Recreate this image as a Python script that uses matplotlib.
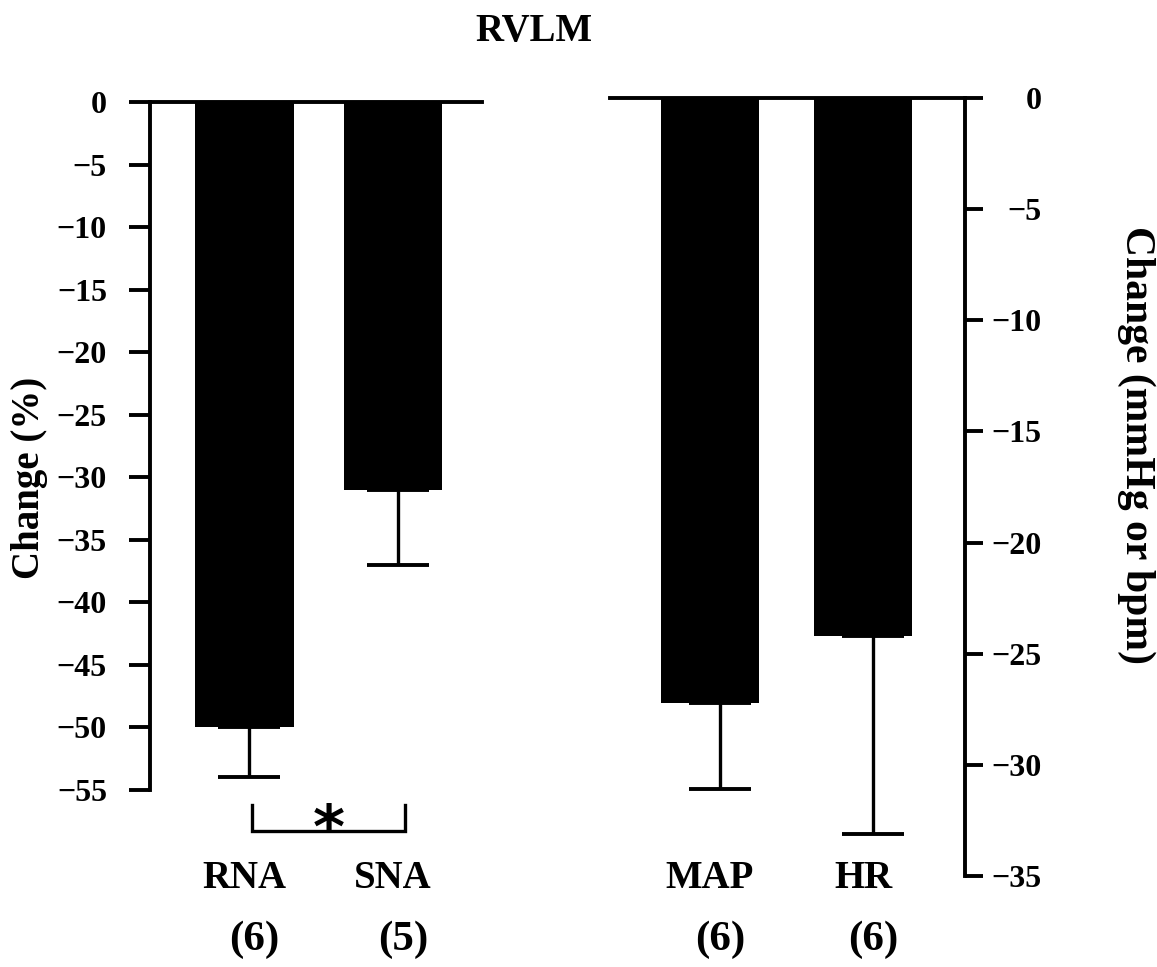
import numpy as np
import matplotlib.pyplot as plt
from matplotlib import transforms

plt.rcParams['font.family'] = ['Liberation Serif', 'DejaVu Serif']
plt.rcParams['font.weight'] = 'bold'

# nerve activity, % change
nerve_labels = ['RNA', 'SNA']
nerve_n = ['(6)', '(5)']
nerve_change = [-50, -31]
nerve_sem = [4, 6]

# blood pressure / heart rate, mmHg or bpm
cv_labels = ['MAP', 'HR']
cv_n = ['(6)', '(6)']
cv_change = [-27.2, -24.2]
cv_sem = [3.9, 8.9]

left_ticks = np.arange(0, -56, -5)
right_ticks = np.arange(0, -36, -5)

W, H = 1157, 967
fig = plt.figure(figsize=(W / 100, H / 100), dpi=100)

def px_axes(x0, x1, y_top, y_bot):
    return fig.add_axes([x0 / W, 1 - y_bot / H, (x1 - x0) / W, (y_bot - y_top) / H])

ax1 = px_axes(150, 482, 102, 790)
ax2 = px_axes(610, 965, 98, 876)

lw = 2.8
tick_fs = 23

def style(ax, side):
    for s in ax.spines.values():
        s.set_visible(False)
        s.set_linewidth(lw)
    ax.spines['top'].set_visible(True)
    ax.spines[side].set_visible(True)
    ax.set_xticks([])
    ax.patch.set_alpha(0)

# left panel
x1 = np.array([0.94, 2.43])
ax1.bar(x1, nerve_change, width=0.99, color='black', zorder=2)
ax1.errorbar(x1 + 0.05, nerve_change, yerr=[nerve_sem, [0, 0]], fmt='none',
             ecolor='black', elinewidth=2.4, capsize=22, capthick=2.8, zorder=3)
ax1.set_xlim(0, 3.32)
ax1.set_ylim(-55, 0)
ax1.set_yticks(left_ticks)
ax1.set_yticklabels([f'\u2212{abs(v)}' if v else '0' for v in left_ticks])
ax1.tick_params(axis='y', direction='out', length=15, width=lw, labelsize=tick_fs, pad=16)
style(ax1, 'left')

# significance bracket between RNA and SNA
bx = [x1[0] + 0.08, x1[0] + 0.08, x1[1] + 0.12, x1[1] + 0.12]
by = [-56.2, -58.3, -58.3, -56.2]
ax1.plot(bx, by, color='black', lw=2.4, clip_on=False, solid_joinstyle='miter')
ax1.text((bx[0] + bx[2]) / 2, -58.3, '*', fontsize=44, ha='center', va='center',
         fontfamily='DejaVu Sans', fontweight='bold', clip_on=False)

# right panel
x2 = np.array([1.00, 2.53])
ax2.bar(x2, cv_change, width=0.98, color='black', zorder=2)
ax2.errorbar(x2 + 0.1, cv_change, yerr=[cv_sem, [0, 0]], fmt='none',
             ecolor='black', elinewidth=2.4, capsize=22, capthick=2.8, zorder=3)
ax2.set_xlim(0, 3.55)
ax2.set_ylim(-35, 0)
ax2.yaxis.tick_right()
ax2.set_yticks(right_ticks)
ax2.set_yticklabels([f'\u2212{abs(v)}' if v else '0' for v in right_ticks])
ax2.tick_params(axis='y', direction='out', length=13, width=lw, labelsize=tick_fs, pad=42)
for t in ax2.get_yticklabels():
    t.set_horizontalalignment('right')
style(ax2, 'right')

# category labels and group sizes under the bars
for ax, xs, labs, ns in [(ax1, x1, nerve_labels, nerve_n), (ax2, x2, cv_labels, cv_n)]:
    tr = transforms.blended_transform_factory(ax.transData, fig.transFigure)
    for x, lab, n in zip(xs, labs, ns):
        ax.text(x, 1 - 879 / H, lab, transform=tr, ha='center', va='center', fontsize=28)
        ax.text(x + 0.1, 1 - 940 / H, n, transform=tr, ha='center', va='center', fontsize=31)

fig.text(534 / W, 1 - 32 / H, 'RVLM', ha='center', va='center', fontsize=28)
fig.text(30 / W, 1 - 478 / H, 'Change (%)', rotation=90, ha='center', va='center', fontsize=28)
fig.text(1136 / W, 1 - 445 / H, 'Change (mmHg or bpm)', rotation=-90, ha='center',
         va='center', fontsize=30)

fig.savefig('out.png', dpi=100)
